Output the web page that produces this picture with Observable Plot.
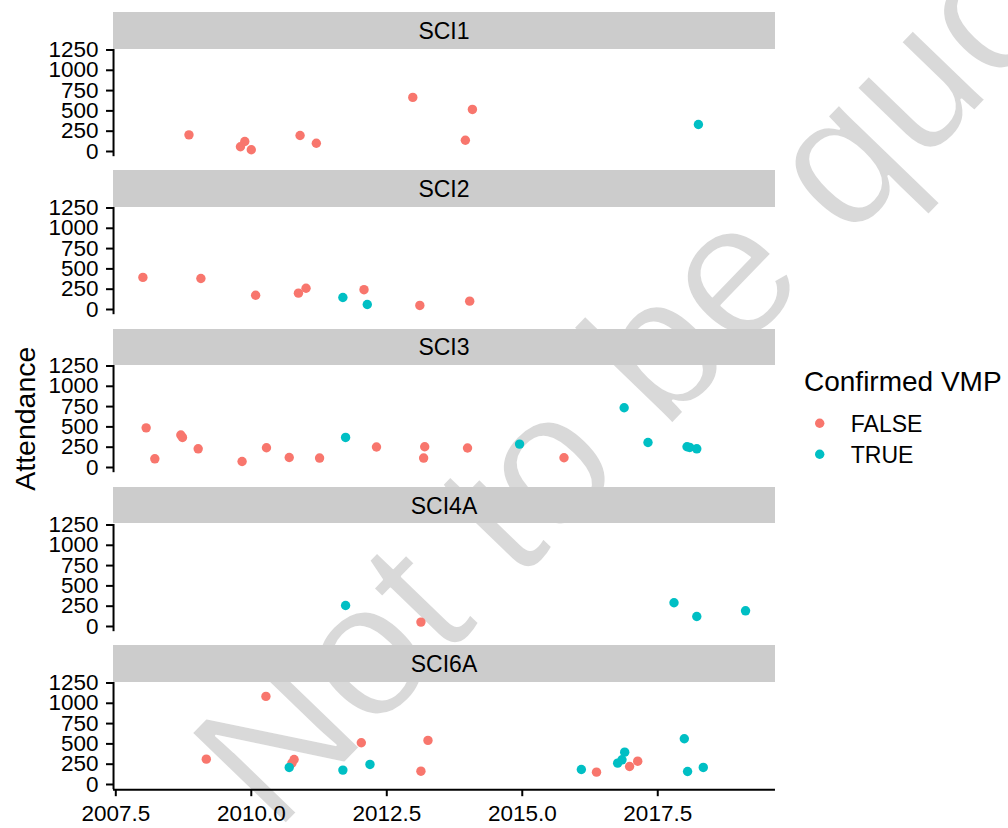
<!DOCTYPE html>
<html><head><meta charset="utf-8">
<script src="https://cdn.jsdelivr.net/npm/d3@7"></script>
<script src="https://cdn.jsdelivr.net/npm/@observablehq/plot@0.6"></script>
<style>
body{margin:0;background:#fff;}
#wrap{position:relative;width:1008px;height:828px;overflow:hidden;font-family:"Liberation Sans",Arial,sans-serif;background:#fff;}
.strip{position:absolute;background:#cccccc;color:#000;font-size:23px;display:flex;align-items:center;justify-content:center;box-sizing:border-box;padding-top:2px;z-index:2;}
.plot{position:absolute;left:0;width:790px;z-index:1;}
.plot svg [aria-label$="tick"]{stroke-width:2px;}
.abs{position:absolute;left:0;top:0;}
</style></head><body><div id="wrap"></div>
<script>
// ---- data ----
const sites = ["SCI1", "SCI2", "SCI3", "SCI4A", "SCI6A"];
const vmpLevels = ["FALSE", "TRUE"];
const vmpColors = ["#F8766D", "#00BFC4"];
const yTicks = [0, 250, 500, 750, 1000, 1250];
const xTicks = [2007.5, 2010, 2012.5, 2015, 2017.5];

const sci1Year = [2008.85, 2009.80, 2009.88, 2010.00, 2010.90, 2011.20, 2012.98, 2013.95, 2014.08, 2018.25];
const sci1Att  = [205, 58, 123, 21, 197, 102, 666, 139, 518, 333];
const sci1Vmp  = ["FALSE","FALSE","FALSE","FALSE","FALSE","FALSE","FALSE","FALSE","FALSE","TRUE"];

const sci2Year = [2008.00, 2009.07, 2010.08, 2010.87, 2011.01, 2011.69, 2012.08, 2012.14, 2013.11, 2014.03];
const sci2Att  = [395, 382, 176, 201, 262, 148, 244, 62, 50, 103];
const sci2Vmp  = ["FALSE","FALSE","FALSE","FALSE","FALSE","TRUE","FALSE","TRUE","FALSE","FALSE"];

const sci3Year = [2008.06, 2008.22, 2008.70, 2008.73, 2009.02, 2009.83, 2010.28, 2010.70, 2011.26, 2011.74, 2012.31, 2013.20, 2013.18, 2013.99, 2014.95, 2015.77, 2016.88, 2017.32, 2018.04, 2018.09, 2018.22];
const sci3Att  = [488, 107, 400, 370, 230, 74, 243, 123, 116, 370, 252, 255, 116, 240, 288, 120, 736, 308, 255, 247, 230];
const sci3Vmp  = ["FALSE","FALSE","FALSE","FALSE","FALSE","FALSE","FALSE","FALSE","FALSE","TRUE","FALSE","FALSE","FALSE","FALSE","TRUE","FALSE","TRUE","TRUE","TRUE","TRUE","TRUE"];

const sci4aYear = [2011.74, 2013.13, 2017.80, 2018.22, 2019.12];
const sci4aAtt  = [259, 54, 292, 123, 193];
const sci4aVmp  = ["TRUE","FALSE","TRUE","TRUE","TRUE"];

const sci6aYear = [2009.17, 2010.27, 2010.79, 2010.75, 2010.70, 2011.69, 2012.03, 2012.19, 2013.26, 2013.13, 2016.09, 2016.37, 2016.76, 2016.84, 2016.89, 2016.98, 2017.13, 2017.99, 2018.05, 2018.34];
const sci6aAtt  = [312, 1085, 308, 263, 210, 177, 514, 247, 543, 164, 185, 152, 263, 304, 398, 222, 287, 563, 160, 210];
const sci6aVmp  = ["FALSE","FALSE","FALSE","FALSE","TRUE","TRUE","FALSE","TRUE","FALSE","FALSE","TRUE","FALSE","TRUE","TRUE","TRUE","FALSE","FALSE","TRUE","TRUE","TRUE"];

const yTitle = "Attendance";
const legendTitle = "Confirmed VMP";
const watermark = "Not to be quoted";

// ---- build ----
const siteSeries = [
  [sci1Year, sci1Att, sci1Vmp],
  [sci2Year, sci2Att, sci2Vmp],
  [sci3Year, sci3Att, sci3Vmp],
  [sci4aYear, sci4aAtt, sci4aVmp],
  [sci6aYear, sci6aAtt, sci6aVmp]
];
const rows = siteSeries.map(([yr, at, vm], i) =>
  yr.map((y, j) => ({site: sites[i], year: y, att: at[j], vmp: vm[j]})));

const wrap = document.getElementById("wrap");
const font = '"Liberation Sans", Arial, sans-serif';

// watermark (behind everything)
const wm = d3.create("svg").attr("class", "abs").attr("width", 1008).attr("height", 828).style("z-index", 0);
wm.append("text")
  .attr("transform", "translate(275,835) rotate(-46)")
  .attr("font-family", font).attr("font-size", 190).attr("fill", "#d9d9d9")
  .attr("stroke", "#ffffff").attr("stroke-width", 2).attr("stroke-linejoin", "round")
  .style("paint-order", "fill stroke")
  .text(watermark);
wrap.appendChild(wm.node());

const xDomain = [2007.458, 2019.672];
const yDomain = [-64, 1256];
const pitch = 158.3, stripTop0 = 12, stripH = 36.6, panelH = 107.2;
const panelLeft = 113, panelRight = 775, svgW = 790;

sites.forEach((s, k) => {
  const last = k === sites.length - 1;
  const stripTop = stripTop0 + pitch * k;
  const panelTop = stripTop + stripH;
  const strip = document.createElement("div");
  strip.className = "strip";
  Object.assign(strip.style, {left: panelLeft + "px", top: stripTop + "px", width: (panelRight - panelLeft) + "px", height: stripH + "px"});
  strip.textContent = s;
  wrap.appendChild(strip);

  const mt = 10, mb = last ? 45 : 8;
  const chart = Plot.plot({
    width: svgW,
    height: mt + panelH + mb,
    marginTop: mt, marginBottom: mb,
    marginLeft: panelLeft, marginRight: svgW - panelRight,
    style: {background: "transparent", fontFamily: font, fontSize: "22.5px", color: "#000", overflow: "visible"},
    x: {domain: xDomain, ticks: xTicks, tickFormat: d3.format(".1f"), tickSize: 7, tickPadding: 8, label: null, axis: last ? "bottom" : null},
    y: {domain: yDomain, ticks: yTicks, tickFormat: d => String(d), tickSize: 7, tickPadding: 8, label: null},
    color: {domain: vmpLevels, range: vmpColors},
    marks: [
      Plot.ruleX([xDomain[0]], {stroke: "#000", strokeWidth: 2}),
      last ? Plot.ruleY([yDomain[0]], {stroke: "#000", strokeWidth: 2}) : null,
      Plot.dot(rows[k], {x: "year", y: "att", fill: "vmp", r: 4.7, stroke: null})
    ]
  });
  const holder = document.createElement("div");
  holder.className = "plot";
  holder.style.top = (panelTop - mt) + "px";
  holder.appendChild(chart);
  wrap.appendChild(holder);
});

// y title
const yt = d3.create("svg").attr("class", "abs").attr("width", 50).attr("height", 828).style("z-index", 3);
yt.append("text").attr("transform", "translate(35,418.7) rotate(-90)")
  .attr("text-anchor", "middle").attr("font-family", font).attr("font-size", 28.5).attr("fill", "#000")
  .text(yTitle);
wrap.appendChild(yt.node());

// legend
const lg = d3.create("svg").attr("class", "abs").attr("width", 218).attr("height", 130)
  .style("left", "790px").style("top", "350px").style("z-index", 3);
lg.append("text").attr("x", 14).attr("y", 41).attr("font-family", font).attr("font-size", 28).attr("fill", "#000").text(legendTitle);
vmpLevels.forEach((lv, i) => {
  lg.append("circle").attr("cx", 29.7).attr("cy", 73.3 + 31 * i).attr("r", 4.7).attr("fill", vmpColors[i]);
  lg.append("text").attr("x", 60.8).attr("y", 82.3 + 31 * i).attr("font-family", font).attr("font-size", 23).attr("fill", "#000").text(lv);
});
wrap.appendChild(lg.node());
</script></body></html>
